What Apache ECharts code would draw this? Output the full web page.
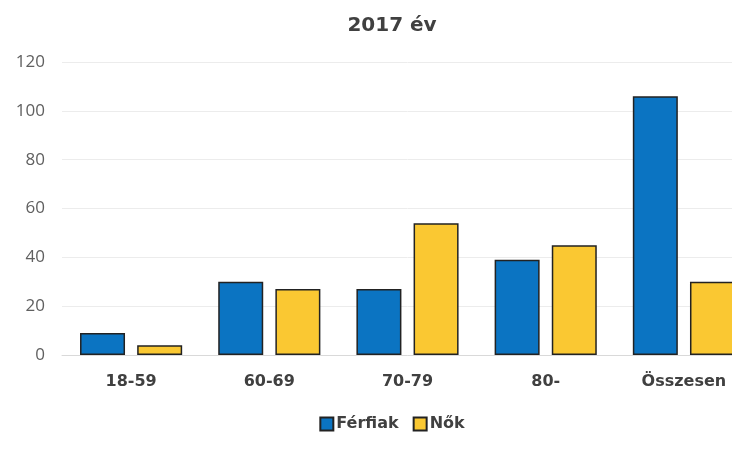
<!DOCTYPE html>
<html>
<head>
<meta charset="utf-8">
<script src="https://cdn.jsdelivr.net/npm/echarts@6/dist/echarts.min.js"></script>
<style>
  html, body { margin: 0; padding: 0; overflow: hidden; background: #fff; }
  #chart { width: 784px; height: 450px; }
</style>
</head>
<body>
<div id="chart"></div>
<script>
const categories = ['18-59', '60-69', '70-79', '80-', 'Összesen']
const ferfiak = [9, 30, 27, 39, 106]
const nok = [4, 27, 54, 45, 30]
const yTicks = { min: 0, max: 120, interval: 20 }

const chart = echarts.init(document.getElementById('chart'))

const barBorder = { borderColor: '#222', borderWidth: 1.5 }
const font = 'DejaVu Sans'

chart.setOption({
  animation: false,
  title: {
    text: '2017 év',
    left: 'center',
    top: 11,
    textStyle: { fontFamily: font, fontSize: 20, fontWeight: 'bold', color: '#404040' }
  },
  legend: {
    bottom: 13,
    left: 'center',
    itemWidth: 13,
    itemHeight: 13,
    itemGap: 14,
    icon: 'rect',
    textStyle: { fontFamily: font, fontSize: 16, fontWeight: 'bold', color: '#404040', padding: [0, 0, 0, -2] },
    data: ['Férfiak', 'Nők']
  },
  grid: { left: 62, right: 31, top: 62, bottom: 95 },
  xAxis: {
    type: 'category',
    data: categories,
    axisTick: { show: false },
    axisLine: { lineStyle: { color: '#d9d9d9' } },
    axisLabel: { margin: 19, fontFamily: font, fontSize: 16, fontWeight: 'bold', color: '#404040' }
  },
  yAxis: {
    type: 'value',
    min: yTicks.min,
    max: yTicks.max,
    interval: yTicks.interval,
    axisLine: { show: false },
    axisTick: { show: false },
    splitLine: { lineStyle: { color: '#ececec' } },
    axisLabel: { margin: 17, fontFamily: 'Open Sans', fontSize: 17, color: '#606060' }
  },
  series: [
    {
      name: 'Férfiak',
      type: 'bar',
      data: ferfiak,
      barWidth: 45,
      barGap: '27%',
      itemStyle: Object.assign({ color: '#0b74c2' }, barBorder)
    },
    {
      name: 'Nők',
      type: 'bar',
      data: nok,
      barWidth: 45,
      barGap: '27%',
      itemStyle: Object.assign({ color: '#fac832' }, barBorder)
    }
  ]
})
</script>
</body>
</html>
